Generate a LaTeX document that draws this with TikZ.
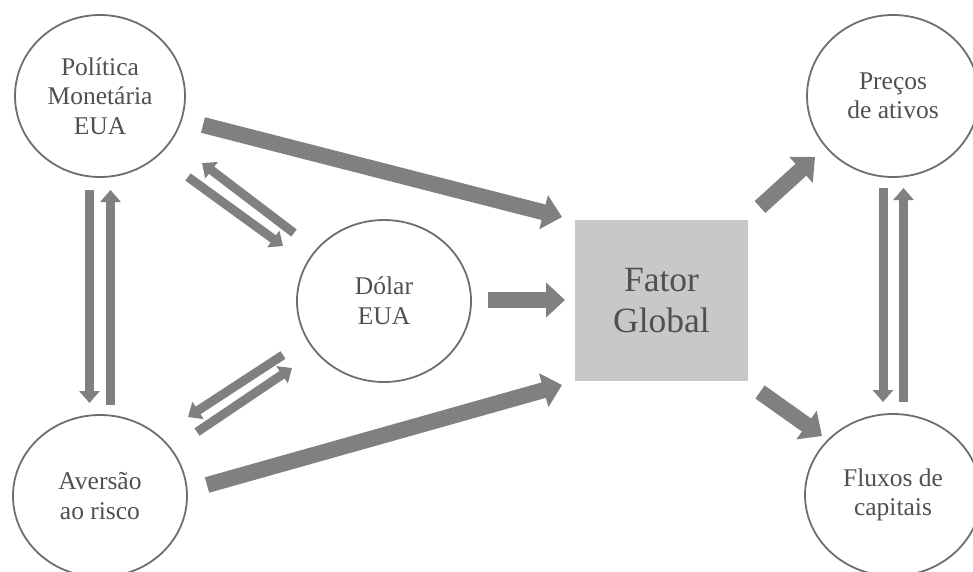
\documentclass[tikz,border=0pt]{standalone}
\usepackage{fontspec}
\setmainfont{Liberation Serif}
\usetikzlibrary{arrows.meta,shapes.geometric}
\definecolor{arrowgray}{HTML}{808080}
\definecolor{linegray}{HTML}{6E6E6E}
\definecolor{boxgray}{HTML}{C8C8C8}
\definecolor{textgray}{HTML}{505050}
\begin{document}
\begin{tikzpicture}[x=1pt,y=-1pt,
  circ/.style={draw=linegray, line width=1.8pt, ellipse, inner sep=0pt, align=center,
    text=textgray, font=\fontsize{25.5}{29.5}\selectfont},
  boxnode/.style={fill=boxgray, inner sep=0pt, align=center, text=textgray,
    font=\fontsize{35.5}{41}\selectfont},
  thinarrow/.style={color=arrowgray, line width=9pt, -{Triangle[width=20pt,length=12pt]}},
  thickarrow/.style={color=arrowgray, line width=16pt, -{Triangle[width=34pt,length=19pt]}}]
\clip (0,0) rectangle (973,572);
\fill[white] (0,0) rectangle (973,572);
% nodes
\node[circ, minimum width=170pt, minimum height=162pt] (pm) at (100,96) {Política\\Monetária\\EUA};
\node[circ, minimum width=174pt, minimum height=162pt] (ar) at (100,496) {Aversão\\ao risco};
\node[circ, minimum width=174pt, minimum height=162pt] (du) at (384,301) {Dólar\\EUA};
\node[boxnode, minimum width=173pt, minimum height=161pt] (fg) at (661.5,300.5) {Fator\\Global};
\node[circ, minimum width=172pt, minimum height=162pt] (pa) at (893,96) {Preços\\de ativos};
\node[circ, minimum width=176pt, minimum height=162pt] (fc) at (893,495) {Fluxos de\\capitais};
% left vertical pair
\draw[thinarrow] ([shift={(-10.5,94)}]pm.center) -- ([shift={(-10.5,-93)}]ar.center);
\draw[thinarrow] ([shift={(10.5,-91)}]ar.center) -- ([shift={(10.5,94)}]pm.center);
% right vertical pair
\draw[thinarrow] ([shift={(-10,92)}]pa.center) -- ([shift={(-10,-93)}]fc.center);
\draw[thinarrow] ([shift={(10.5,-93)}]fc.center) -- ([shift={(10.5,92)}]pa.center);
% Politica <-> Dolar
\draw[thinarrow] ([shift={(88,81)}]pm.center) -- ([shift={(-101,-55)}]du.center);
\draw[thinarrow] ([shift={(-90,-68)}]du.center) -- ([shift={(102,67)}]pm.center);
% Aversao <-> Dolar
\draw[thinarrow] ([shift={(-101,54)}]du.center) -- ([shift={(88,-79)}]ar.center);
\draw[thinarrow] ([shift={(97,-64)}]ar.center) -- ([shift={(-92,67)}]du.center);
% thick arrows into Fator Global
\draw[thickarrow] ([shift={(103,29)}]pm.center) -- ([shift={(-99.5,-83.5)}]fg.center);
\draw[thickarrow] ([shift={(107,-11)}]ar.center) -- ([shift={(-99.5,84.5)}]fg.center);
\draw[thickarrow] ([shift={(104,-1)}]du.center) -- ([shift={(-96.5,-0.5)}]fg.center);
% out of Fator Global
\draw[thickarrow] ([shift={(98.5,-93.5)}]fg.center) -- ([shift={(-78,61)}]pa.center);
\draw[thickarrow] ([shift={(98.5,91.5)}]fg.center) -- ([shift={(-71,-59)}]fc.center);
\end{tikzpicture}
\end{document}
